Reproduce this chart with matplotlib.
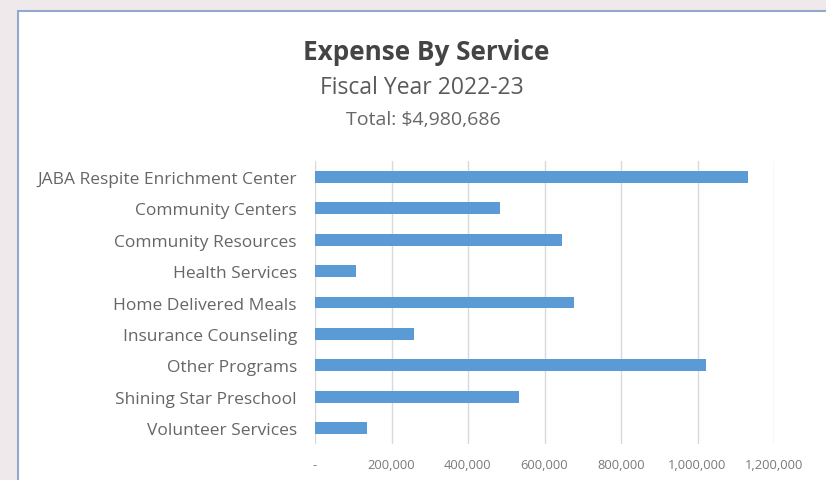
import matplotlib
matplotlib.use('Agg')
import matplotlib.pyplot as plt
from matplotlib.patches import Rectangle
from matplotlib.ticker import FuncFormatter, MultipleLocator

# data
services = ['JABA Respite Enrichment Center', 'Community Centers', 'Community Resources',
            'Health Services', 'Home Delivered Meals', 'Insurance Counseling',
            'Other Programs', 'Shining Star Preschool', 'Volunteer Services']
expense = [1133000, 484000, 647000, 106000, 677000, 260000, 1021000, 533000, 135000]
title = 'Expense By Service'
subtitle = 'Fiscal Year 2022-23'
total_txt = 'Total: $4,980,686'

plt.rcParams['font.family'] = ['Open Sans', 'DejaVu Sans']

W, H = 826, 481
fig = plt.figure(figsize=(W/100, H/100), dpi=100)
fig.patch.set_facecolor('#efe9eb')

# chart frame (white panel with blue-grey border)
fig.patches.append(Rectangle((18/W, -0.05), 1.0, 1 - 12/H + 0.05, transform=fig.transFigure,
                             facecolor='white', edgecolor='#8faacc', lw=1.5, zorder=-10))

ax = fig.add_axes([315/W, 1 - 445/H, (774 - 315)/W, (445 - 162)/H])
ax.set_facecolor('none')
ypos = list(range(len(services)))
ax.barh(ypos, expense, height=0.38, color='#5b9bd5', zorder=3)
ax.set_yticks(ypos)
ax.set_yticklabels(services)
ax.set_ylim(len(services) - 0.5, -0.5)
ax.set_xlim(0, 1200000)
ax.xaxis.set_major_locator(MultipleLocator(200000))
ax.xaxis.set_major_formatter(FuncFormatter(lambda v, p: '-' if v == 0 else f'{int(v):,}'))
ax.grid(axis='x', color='#d9d9d9', lw=1, zorder=0)
for s in ax.spines.values():
    s.set_visible(False)
ax.tick_params(axis='y', length=0, pad=13, labelsize=12.5, labelcolor='#666666')
ax.tick_params(axis='x', length=0, pad=10, labelsize=9.3, labelcolor='#7a7a7a')

fig.text(426/W, 1 - 53/H, title, ha='center', va='center', fontsize=18.8,
         fontweight='bold', color='#444444')
fig.text(422/W, 1 - 88/H, subtitle, ha='center', va='center', fontsize=16.5, color='#5a5a5a')
fig.text(423/W, 1 - 120/H, total_txt, ha='center', va='center', fontsize=14, color='#666666')

fig.savefig('out.png', dpi=100, facecolor=fig.get_facecolor())
